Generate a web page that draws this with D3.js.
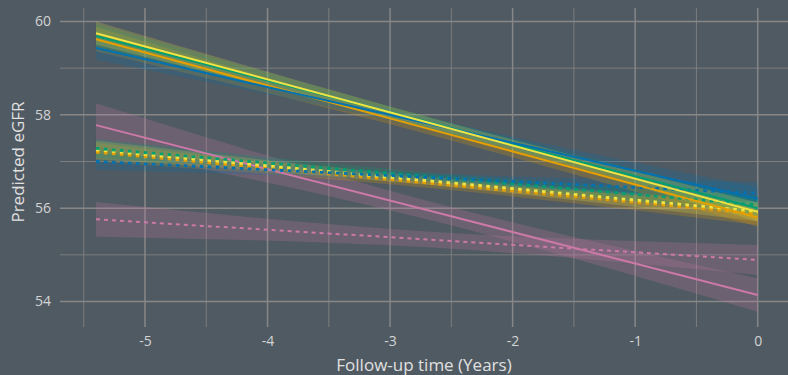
<!DOCTYPE html>
<html><head><meta charset="utf-8">
<script src="https://cdn.jsdelivr.net/npm/d3@7"></script>
<style>html,body{margin:0;padding:0;background:#505a62;}</style>
</head><body>
<svg id="chart" width="788" height="375"></svg>
<script>
// ---- data ----
const xPoints = [-5.4, -2.7, 0];
const seriesNames = ["pinkSolid","pinkDashed","orangeDotted","yellowDotted","greenDotted","blueDotted","orangeSolid","greenSolid","blueSolid","yellowSolid"];
const pinkSolidFit  = [57.78, 55.96, 54.14];
const pinkSolidLo   = [57.31, 55.76, 53.78];
const pinkSolidHi   = [58.25, 56.16, 54.50];
const pinkDashedFit = [55.76, 55.33, 54.89];
const pinkDashedLo  = [55.39, 55.16, 54.57];
const pinkDashedHi  = [56.13, 55.50, 55.21];
const orangeDottedFit = [57.20, 56.54, 55.88];
const orangeDottedLo  = [57.00, 56.44, 55.64];
const orangeDottedHi  = [57.40, 56.64, 56.12];
const yellowDottedFit = [57.25, 56.59, 55.93];
const yellowDottedLo  = [57.05, 56.50, 55.72];
const yellowDottedHi  = [57.45, 56.68, 56.14];
const greenDottedFit  = [57.28, 56.68, 56.07];
const greenDottedLo   = [57.08, 56.59, 55.87];
const greenDottedHi   = [57.48, 56.77, 56.27];
const blueDottedFit   = [57.00, 56.66, 56.32];
const blueDottedLo    = [56.82, 56.57, 56.08];
const blueDottedHi    = [57.18, 56.75, 56.56];
const orangeSolidFit  = [59.62, 57.71, 55.80];
const orangeSolidLo   = [59.36, 57.59, 55.60];
const orangeSolidHi   = [59.88, 57.83, 56.00];
const greenSolidFit   = [59.69, 57.85, 56.00];
const greenSolidLo    = [59.43, 57.73, 55.80];
const greenSolidHi    = [59.95, 57.97, 56.20];
const blueSolidFit    = [59.43, 57.82, 56.20];
const blueSolidLo     = [59.18, 57.70, 55.95];
const blueSolidHi     = [59.68, 57.94, 56.45];
const yellowSolidFit  = [59.75, 57.84, 55.92];
const yellowSolidLo   = [59.50, 57.72, 55.72];
const yellowSolidHi   = [60.00, 57.96, 56.12];
const xTicks = [-5, -4, -3, -2, -1, 0];
const yTicks = [54, 56, 58, 60];
const xLabel = "Follow-up time (Years)";
const yLabel = "Predicted eGFR";

// ---- styles ----
const palette = {pink:"#CC79A7", orange:"#E69F00", yellow:"#F0E442", green:"#009E73", blue:"#0072B2"};
const dataBy = {
  pinkSolid:[pinkSolidFit,pinkSolidLo,pinkSolidHi,"pink","solid"],
  pinkDashed:[pinkDashedFit,pinkDashedLo,pinkDashedHi,"pink","dashed"],
  orangeDotted:[orangeDottedFit,orangeDottedLo,orangeDottedHi,"orange","dotted"],
  yellowDotted:[yellowDottedFit,yellowDottedLo,yellowDottedHi,"yellow","dotted"],
  greenDotted:[greenDottedFit,greenDottedLo,greenDottedHi,"green","dotted"],
  blueDotted:[blueDottedFit,blueDottedLo,blueDottedHi,"blue","dotted"],
  orangeSolid:[orangeSolidFit,orangeSolidLo,orangeSolidHi,"orange","solid"],
  greenSolid:[greenSolidFit,greenSolidLo,greenSolidHi,"green","solid"],
  blueSolid:[blueSolidFit,blueSolidLo,blueSolidHi,"blue","solid"],
  yellowSolid:[yellowSolidFit,yellowSolidLo,yellowSolidHi,"yellow","solid"]
};

const svg = d3.select("#chart");
const panel = {left:60, right:788, top:8, bottom:327};
const x = d3.scaleLinear().domain([-5, 0]).range([145, 757.7]);
const y = d3.scaleLinear().domain([54, 60]).range([301.5, 21.5]);
const font = "'Open Sans', Roboto, sans-serif";
const gridCol = "#878787";

// grid
const g = svg.append("g");
const xMinor = d3.range(-5.5, 0, 1);
const yMinor = [55, 57, 59];
g.selectAll(".vmin").data(xMinor).join("line")
  .attr("x1", d=>x(d)).attr("x2", d=>x(d)).attr("y1", panel.top).attr("y2", panel.bottom)
  .attr("stroke", gridCol).attr("stroke-width", 0.8);
g.selectAll(".hmin").data(yMinor).join("line")
  .attr("y1", d=>y(d)).attr("y2", d=>y(d)).attr("x1", panel.left).attr("x2", panel.right)
  .attr("stroke", gridCol).attr("stroke-width", 0.8);
g.selectAll(".vmaj").data(xTicks).join("line")
  .attr("x1", d=>x(d)).attr("x2", d=>x(d)).attr("y1", panel.top).attr("y2", panel.bottom)
  .attr("stroke", gridCol).attr("stroke-width", 1.5);
g.selectAll(".hmaj").data(yTicks).join("line")
  .attr("y1", d=>y(d)).attr("y2", d=>y(d)).attr("x1", panel.left).attr("x2", panel.right)
  .attr("stroke", gridCol).attr("stroke-width", 1.5);

// ribbons
const area = d3.area().x(d=>x(d.x)).y0(d=>y(d.lo)).y1(d=>y(d.hi)).curve(d3.curveMonotoneX);
const line = d3.line().x(d=>x(d.x)).y(d=>y(d.fit));
const rows = name => { const [f,lo,hi] = dataBy[name]; return xPoints.map((xx,i)=>({x:xx, fit:f[i], lo:lo[i], hi:hi[i]})); };
const rib = svg.append("g");
seriesNames.forEach(n => {
  rib.append("path").datum(rows(n)).attr("d", area)
    .attr("fill", palette[dataBy[n][3]]).attr("fill-opacity", 0.22);
});
const ln = svg.append("g");
seriesNames.forEach(n => {
  const type = dataBy[n][4];
  const p = ln.append("path").datum(rows(n)).attr("d", line)
    .attr("fill", "none").attr("stroke", palette[dataBy[n][3]]);
  if (type === "solid") p.attr("stroke-width", 2);
  else if (type === "dashed") p.attr("stroke-width", 2).attr("stroke-dasharray", "4,4");
  else p.attr("stroke-width", 2.8).attr("stroke-dasharray", "3.5,4.5");
});

// axes
const fmt = d => String(d);
const xAxis = d3.axisBottom(x).tickValues(xTicks).tickFormat(fmt).tickSize(0).tickPadding(0);
const xa = svg.append("g").attr("transform", "translate(0,336)").call(xAxis);
xa.select(".domain").remove();
xa.selectAll("text").attr("fill", "#d4d4d4").style("font-family", font).style("font-size", "14px").attr("dy", "0.71em");
const yAxis = d3.axisLeft(y).tickValues(yTicks).tickFormat(fmt).tickSize(0).tickPadding(0);
const ya = svg.append("g").attr("transform", "translate(51,0)").call(yAxis);
ya.select(".domain").remove();
ya.selectAll("text").attr("fill", "#d4d4d4").style("font-family", font).style("font-size", "14px");

svg.append("text").attr("x", 424).attr("y", 371).attr("text-anchor", "middle")
  .attr("fill", "#e0e0e0").style("font-family", font).style("font-size", "17px").text(xLabel);
svg.append("text").attr("transform", "translate(24,162) rotate(-90)").attr("text-anchor", "middle")
  .attr("fill", "#e0e0e0").style("font-family", font).style("font-size", "17px").text(yLabel);
</script>
</body></html>
